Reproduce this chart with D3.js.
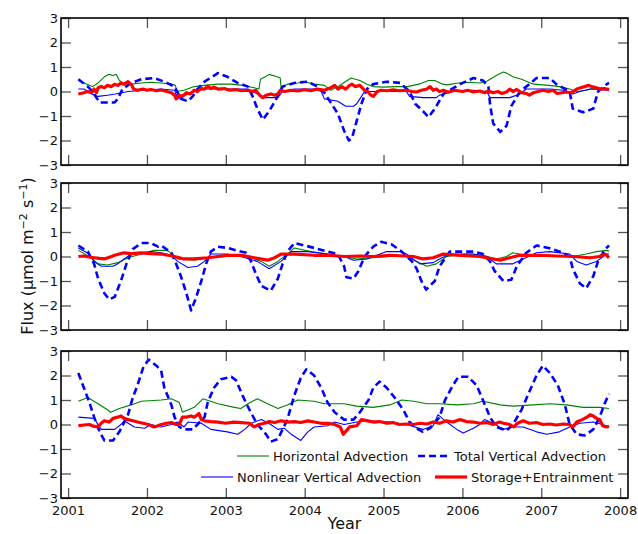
<!DOCTYPE html>
<html>
<head>
<meta charset="utf-8">
<script src="https://cdn.jsdelivr.net/npm/d3@7"></script>
<style>
  body { margin: 0; background: #fff; }
  svg { font-family: "DejaVu Sans", sans-serif; }
</style>
</head>
<body>
<div id="chart"></div>
<script>
// flux components, 3 stacked panels - [year, flux] pairs
const horiz1 = [[2001.13,0.45],[2001.2,0.35],[2001.31,0.2],[2001.38,0.35],[2001.46,0.6],[2001.52,0.7],[2001.57,0.65],[2001.61,0.7],[2001.65,0.45],[2001.69,0.35],[2001.8,0.3],[2001.93,0.35],[2002.05,0.38],[2002.18,0.35],[2002.31,0.3],[2002.36,0.25],[2002.38,0.0],[2002.47,0.05],[2002.6,0.2],[2002.73,0.25],[2002.9,0.3],[2003.07,0.3],[2003.21,0.25],[2003.36,0.15],[2003.42,0.1],[2003.44,0.5],[2003.5,0.6],[2003.55,0.7],[2003.65,0.6],[2003.69,0.55],[2003.7,0.15],[2003.78,0.3],[2003.91,0.35],[2004.0,0.4],[2004.12,0.3],[2004.25,0.25],[2004.33,0.05],[2004.42,0.2],[2004.49,0.35],[2004.59,0.55],[2004.7,0.45],[2004.79,0.3],[2004.87,0.2],[2005.0,0.18],[2005.15,0.2],[2005.3,0.2],[2005.45,0.3],[2005.57,0.45],[2005.65,0.45],[2005.75,0.3],[2005.8,0.27],[2005.95,0.35],[2006.1,0.38],[2006.22,0.35],[2006.31,0.42],[2006.43,0.65],[2006.52,0.8],[2006.56,0.75],[2006.64,0.6],[2006.75,0.5],[2006.9,0.3],[2007.1,0.25],[2007.23,0.2],[2007.36,0.1],[2007.45,0.0],[2007.57,0.05],[2007.66,0.13],[2007.78,0.1],[2007.86,0.08]];
const nonlin1 = [[2001.13,0.1],[2001.2,0.1],[2001.3,-0.1],[2001.38,-0.2],[2001.5,-0.15],[2001.6,-0.1],[2001.76,0.0],[2001.97,0.05],[2002.18,0.1],[2002.35,0.05],[2002.39,-0.3],[2002.52,-0.1],[2002.69,0.1],[2003.02,0.1],[2003.28,0.1],[2003.4,-0.1],[2003.45,-0.25],[2003.66,-0.25],[2003.72,0.0],[2003.87,0.1],[2004.12,0.1],[2004.21,0.0],[2004.25,-0.3],[2004.42,-0.4],[2004.52,-0.6],[2004.62,-0.6],[2004.66,-0.5],[2004.7,-0.3],[2004.76,0.0],[2005.0,0.0],[2005.29,0.0],[2005.33,-0.2],[2005.5,-0.25],[2005.67,-0.25],[2005.71,-0.15],[2005.88,0.0],[2006.14,0.05],[2006.31,0.0],[2006.35,-0.25],[2006.6,-0.25],[2006.73,-0.1],[2006.81,0.1],[2007.11,0.1],[2007.28,0.05],[2007.4,-0.1],[2007.49,0.0],[2007.62,0.1],[2007.86,0.05]];
const totvert1 = [[2001.13,0.5],[2001.25,0.2],[2001.31,0.0],[2001.4,-0.45],[2001.5,-0.45],[2001.59,-0.45],[2001.63,-0.3],[2001.69,0.1],[2001.8,0.35],[2001.93,0.5],[2002.09,0.55],[2002.22,0.4],[2002.35,0.2],[2002.43,-0.3],[2002.52,-0.4],[2002.58,-0.2],[2002.64,0.1],[2002.73,0.4],[2002.9,0.75],[2003.02,0.6],[2003.15,0.35],[2003.28,0.2],[2003.34,-0.2],[2003.4,-0.7],[2003.47,-1.15],[2003.55,-0.8],[2003.64,-0.3],[2003.72,0.2],[2003.87,0.35],[2004.04,0.4],[2004.16,0.2],[2004.25,-0.05],[2004.33,-0.45],[2004.42,-0.9],[2004.5,-1.6],[2004.56,-2.0],[2004.6,-1.9],[2004.66,-1.2],[2004.72,-0.5],[2004.79,0.1],[2004.87,0.3],[2005.04,0.4],[2005.21,0.35],[2005.33,0.0],[2005.4,-0.5],[2005.5,-0.8],[2005.57,-1.05],[2005.65,-0.7],[2005.76,-0.1],[2005.97,0.3],[2006.14,0.55],[2006.26,0.45],[2006.33,0.2],[2006.35,-0.5],[2006.39,-1.3],[2006.48,-1.65],[2006.56,-1.4],[2006.62,-0.6],[2006.73,0.0],[2006.85,0.3],[2006.94,0.55],[2007.11,0.55],[2007.19,0.3],[2007.36,0.0],[2007.4,-0.7],[2007.53,-0.85],[2007.66,-0.7],[2007.72,0.0],[2007.83,0.3],[2007.86,0.35]];
const storage1 = [[2001.13,-0.1],[2001.2,-0.05],[2001.25,0.0],[2001.3,-0.05],[2001.33,0.1],[2001.36,-0.05],[2001.38,0.15],[2001.42,0.2],[2001.46,0.15],[2001.5,0.25],[2001.55,0.2],[2001.59,0.3],[2001.63,0.25],[2001.67,0.35],[2001.71,0.3],[2001.76,0.4],[2001.8,0.3],[2001.83,0.1],[2001.88,0.05],[2001.95,0.1],[2002.0,0.05],[2002.05,0.08],[2002.12,0.03],[2002.18,0.06],[2002.25,0.0],[2002.31,-0.05],[2002.35,-0.15],[2002.37,-0.3],[2002.41,-0.15],[2002.45,-0.2],[2002.5,-0.05],[2002.55,-0.1],[2002.6,0.05],[2002.64,0.0],[2002.69,0.12],[2002.73,0.1],[2002.77,0.22],[2002.81,0.12],[2002.85,0.18],[2002.9,0.1],[2002.98,0.12],[2003.05,0.05],[2003.12,0.08],[2003.2,0.03],[2003.28,0.05],[2003.34,0.0],[2003.38,0.05],[2003.43,-0.15],[2003.47,-0.25],[2003.51,-0.15],[2003.57,-0.1],[2003.62,-0.15],[2003.66,-0.1],[2003.69,0.05],[2003.75,0.0],[2003.83,0.05],[2003.91,0.02],[2004.0,0.07],[2004.08,0.03],[2004.16,0.1],[2004.25,0.05],[2004.33,0.15],[2004.38,0.25],[2004.42,0.1],[2004.47,0.2],[2004.52,0.1],[2004.57,0.25],[2004.6,0.3],[2004.64,0.2],[2004.7,0.25],[2004.76,0.05],[2004.8,0.0],[2004.84,-0.15],[2004.87,-0.2],[2004.92,0.0],[2004.97,0.05],[2005.05,0.03],[2005.12,0.07],[2005.2,0.03],[2005.29,0.05],[2005.36,0.0],[2005.42,-0.02],[2005.48,0.05],[2005.55,0.1],[2005.59,0.2],[2005.63,0.05],[2005.67,0.1],[2005.71,0.0],[2005.76,0.05],[2005.82,-0.03],[2005.9,0.05],[2006.0,0.0],[2006.07,0.05],[2006.14,-0.02],[2006.22,0.02],[2006.28,-0.05],[2006.33,0.02],[2006.39,-0.05],[2006.45,0.0],[2006.5,-0.08],[2006.56,-0.02],[2006.6,0.1],[2006.64,0.0],[2006.69,0.08],[2006.75,-0.05],[2006.81,-0.08],[2006.85,-0.15],[2006.9,-0.05],[2006.96,0.0],[2007.02,0.05],[2007.09,0.0],[2007.15,0.05],[2007.2,-0.08],[2007.26,-0.05],[2007.32,-0.02],[2007.38,-0.05],[2007.45,0.1],[2007.5,0.15],[2007.55,0.2],[2007.6,0.25],[2007.64,0.2],[2007.7,0.15],[2007.75,0.1],[2007.8,0.12],[2007.86,0.08]];

const horiz2 = [[2001.13,0.25],[2001.27,0.0],[2001.38,-0.3],[2001.5,-0.35],[2001.63,-0.25],[2001.76,-0.05],[2001.93,0.1],[2002.09,0.25],[2002.26,0.25],[2002.39,-0.1],[2002.6,-0.15],[2002.77,-0.05],[2003.02,0.0],[2003.24,0.05],[2003.45,-0.2],[2003.55,-0.4],[2003.66,-0.2],[2003.78,0.1],[2003.87,0.35],[2004.08,0.2],[2004.29,0.1],[2004.5,0.0],[2004.66,-0.1],[2004.87,-0.05],[2005.08,0.0],[2005.29,0.0],[2005.42,-0.2],[2005.55,-0.4],[2005.67,-0.3],[2005.8,0.0],[2006.05,0.1],[2006.26,0.05],[2006.43,-0.1],[2006.56,0.0],[2006.64,0.15],[2006.81,0.05],[2006.98,0.0],[2007.32,0.05],[2007.4,0.0],[2007.57,0.1],[2007.7,0.2],[2007.83,0.25],[2007.86,0.22]];
const nonlin2 = [[2001.13,0.35],[2001.27,0.1],[2001.33,-0.2],[2001.42,-0.4],[2001.57,-0.4],[2001.63,-0.3],[2001.71,-0.1],[2001.8,0.1],[2002.05,0.2],[2002.18,0.15],[2002.31,0.05],[2002.39,-0.2],[2002.52,-0.45],[2002.64,-0.4],[2002.73,-0.2],[2002.81,0.1],[2003.02,0.1],[2003.19,0.0],[2003.4,-0.2],[2003.55,-0.5],[2003.7,-0.2],[2003.83,0.2],[2004.04,0.2],[2004.29,0.1],[2004.5,0.0],[2004.62,-0.15],[2004.79,-0.1],[2005.04,0.2],[2005.21,0.2],[2005.29,0.1],[2005.46,-0.3],[2005.63,-0.25],[2005.71,-0.1],[2005.84,0.1],[2006.14,0.1],[2006.31,0.0],[2006.43,-0.3],[2006.64,-0.3],[2006.77,-0.1],[2006.94,0.15],[2007.11,0.2],[2007.36,0.1],[2007.45,-0.2],[2007.57,-0.35],[2007.7,-0.2],[2007.83,0.1],[2007.86,0.1]];
const totvert2 = [[2001.13,0.45],[2001.25,0.2],[2001.33,-0.3],[2001.38,-0.9],[2001.46,-1.5],[2001.52,-1.75],[2001.59,-1.65],[2001.67,-1.0],[2001.74,-0.3],[2001.82,0.3],[2001.93,0.55],[2002.05,0.55],[2002.14,0.4],[2002.18,0.45],[2002.31,0.15],[2002.37,-0.3],[2002.43,-0.8],[2002.5,-1.5],[2002.56,-2.2],[2002.62,-1.7],[2002.69,-1.0],[2002.75,-0.3],[2002.81,0.2],[2002.9,0.4],[2003.02,0.35],[2003.19,0.2],[2003.26,0.15],[2003.32,-0.2],[2003.38,-0.7],[2003.45,-1.2],[2003.57,-1.4],[2003.66,-0.9],[2003.72,-0.3],[2003.78,0.2],[2003.87,0.55],[2004.0,0.45],[2004.12,0.35],[2004.29,0.2],[2004.42,0.1],[2004.5,-0.4],[2004.53,-0.85],[2004.62,-0.9],[2004.68,-0.6],[2004.76,0.0],[2004.87,0.4],[2004.97,0.6],[2005.1,0.5],[2005.23,0.2],[2005.36,-0.2],[2005.42,-0.5],[2005.48,-1.0],[2005.54,-1.35],[2005.65,-1.0],[2005.71,-0.4],[2005.84,0.2],[2006.01,0.2],[2006.14,0.2],[2006.26,0.1],[2006.35,-0.2],[2006.41,-0.6],[2006.52,-1.0],[2006.62,-0.95],[2006.69,-0.4],[2006.81,0.15],[2006.94,0.45],[2007.09,0.35],[2007.28,0.15],[2007.36,0.0],[2007.4,-0.5],[2007.49,-1.1],[2007.57,-1.3],[2007.66,-0.8],[2007.72,-0.2],[2007.81,0.3],[2007.86,0.45]];
const storage2 = [[2001.13,0.0],[2001.2,0.02],[2001.27,-0.02],[2001.33,-0.05],[2001.4,-0.08],[2001.46,-0.1],[2001.55,0.0],[2001.59,0.05],[2001.65,0.1],[2001.71,0.15],[2001.8,0.12],[2001.93,0.15],[2002.05,0.12],[2002.18,0.1],[2002.35,0.0],[2002.47,-0.1],[2002.6,-0.1],[2002.77,-0.05],[2002.9,0.0],[2003.02,0.05],[2003.2,0.05],[2003.36,-0.05],[2003.53,-0.15],[2003.62,-0.05],[2003.7,0.1],[2003.87,0.1],[2004.12,0.05],[2004.3,0.05],[2004.5,0.0],[2004.7,0.02],[2004.87,0.0],[2005.08,0.05],[2005.38,0.0],[2005.5,-0.1],[2005.63,-0.05],[2005.76,0.1],[2005.93,0.05],[2006.22,0.0],[2006.39,-0.1],[2006.48,-0.15],[2006.6,-0.05],[2006.73,0.05],[2006.98,0.05],[2007.2,0.02],[2007.4,0.0],[2007.62,-0.05],[2007.74,0.0],[2007.81,0.1],[2007.86,-0.05]];

const horiz3 = [[2001.13,0.95],[2001.25,1.1],[2001.38,0.85],[2001.5,0.6],[2001.54,0.5],[2001.65,0.65],[2001.8,0.8],[2001.93,0.95],[2002.18,1.0],[2002.31,1.05],[2002.41,0.9],[2002.45,0.5],[2002.6,0.7],[2002.71,1.05],[2002.9,0.85],[2003.11,0.7],[2003.19,0.65],[2003.28,0.85],[2003.4,1.05],[2003.53,0.85],[2003.66,0.65],[2003.78,0.8],[2003.91,1.0],[2004.12,0.95],[2004.25,0.85],[2004.5,0.85],[2004.66,0.75],[2004.87,0.7],[2005.08,0.8],[2005.23,1.0],[2005.38,0.95],[2005.55,0.85],[2005.71,0.85],[2005.93,0.8],[2006.14,0.85],[2006.26,0.95],[2006.48,0.8],[2006.64,0.75],[2006.9,0.8],[2007.11,0.85],[2007.32,0.8],[2007.53,0.7],[2007.74,0.7],[2007.86,0.65]];
const nonlin3 = [[2001.13,0.3],[2001.33,0.25],[2001.42,-0.2],[2001.59,-0.2],[2001.67,0.0],[2001.71,0.15],[2001.84,-0.1],[2001.97,-0.15],[2002.05,0.0],[2002.18,-0.1],[2002.31,0.0],[2002.39,0.1],[2002.47,-0.1],[2002.52,0.1],[2002.69,0.05],[2002.81,-0.2],[2003.02,-0.3],[2003.15,-0.4],[2003.24,-0.2],[2003.32,0.05],[2003.45,0.2],[2003.57,0.0],[2003.66,-0.2],[2003.74,-0.15],[2003.83,-0.4],[2003.95,-0.65],[2004.04,-0.3],[2004.12,-0.1],[2004.29,-0.05],[2004.38,0.1],[2004.5,0.0],[2004.66,0.1],[2004.79,0.15],[2005.08,0.1],[2005.29,0.0],[2005.5,-0.2],[2005.63,-0.05],[2005.69,0.4],[2005.8,0.1],[2005.93,-0.2],[2006.01,-0.35],[2006.14,-0.15],[2006.22,0.0],[2006.28,0.2],[2006.39,0.05],[2006.52,-0.2],[2006.64,-0.1],[2006.77,-0.1],[2006.94,-0.3],[2007.07,-0.4],[2007.23,-0.3],[2007.36,-0.1],[2007.49,0.05],[2007.66,0.1],[2007.78,0.0],[2007.86,-0.1]];
const totvert3 = [[2001.13,2.1],[2001.2,1.5],[2001.27,0.9],[2001.33,0.3],[2001.4,-0.3],[2001.46,-0.65],[2001.57,-0.65],[2001.65,-0.3],[2001.76,0.4],[2001.82,1.1],[2001.88,1.6],[2001.95,2.3],[2002.02,2.65],[2002.12,2.4],[2002.18,2.2],[2002.22,1.5],[2002.31,0.8],[2002.35,0.3],[2002.41,-0.1],[2002.47,-0.2],[2002.58,-0.2],[2002.73,0.3],[2002.77,0.9],[2002.85,1.5],[2002.94,1.85],[2003.07,1.95],[2003.13,1.8],[2003.21,1.2],[2003.3,0.6],[2003.4,0.0],[2003.51,-0.4],[2003.57,-0.7],[2003.66,-0.6],[2003.78,0.2],[2003.87,1.2],[2003.95,1.9],[2004.02,2.25],[2004.12,2.0],[2004.21,1.5],[2004.29,0.9],[2004.38,0.5],[2004.5,0.2],[2004.62,0.2],[2004.7,0.5],[2004.81,1.0],[2004.87,1.5],[2004.95,1.75],[2005.04,1.5],[2005.14,1.1],[2005.25,0.6],[2005.33,0.1],[2005.44,-0.2],[2005.5,-0.3],[2005.59,-0.15],[2005.71,0.3],[2005.78,1.0],[2005.88,1.6],[2005.95,1.95],[2006.07,1.95],[2006.18,1.6],[2006.26,1.0],[2006.35,0.3],[2006.43,-0.1],[2006.56,-0.25],[2006.64,0.0],[2006.75,0.6],[2006.83,1.2],[2006.94,2.0],[2007.02,2.4],[2007.11,2.1],[2007.21,1.6],[2007.3,0.8],[2007.36,0.0],[2007.45,-0.4],[2007.55,-0.45],[2007.66,-0.2],[2007.74,0.3],[2007.81,0.9],[2007.86,1.25]];
const storage3 = [[2001.13,-0.05],[2001.2,-0.02],[2001.27,0.0],[2001.33,-0.08],[2001.38,-0.1],[2001.42,0.05],[2001.46,0.15],[2001.52,0.1],[2001.57,0.25],[2001.63,0.3],[2001.67,0.35],[2001.71,0.25],[2001.76,0.2],[2001.82,0.15],[2001.88,0.1],[2001.95,0.05],[2002.02,0.0],[2002.09,-0.1],[2002.14,-0.05],[2002.18,0.0],[2002.25,0.05],[2002.31,0.08],[2002.37,0.0],[2002.41,0.0],[2002.45,0.3],[2002.5,0.3],[2002.56,0.35],[2002.6,0.3],[2002.66,0.45],[2002.69,0.2],[2002.73,0.15],[2002.81,0.12],[2002.9,0.1],[2003.0,0.05],[2003.1,0.1],[2003.2,0.08],[2003.3,0.05],[2003.36,-0.1],[2003.42,0.0],[2003.49,0.05],[2003.55,0.12],[2003.62,0.08],[2003.7,0.15],[2003.78,0.1],[2003.87,0.12],[2003.95,0.08],[2004.04,0.15],[2004.12,0.1],[2004.21,0.05],[2004.3,0.05],[2004.38,0.0],[2004.45,-0.1],[2004.49,-0.4],[2004.53,-0.25],[2004.57,-0.1],[2004.66,-0.05],[2004.72,0.2],[2004.8,0.15],[2004.87,0.1],[2004.95,0.12],[2005.04,0.05],[2005.12,0.08],[2005.2,0.0],[2005.29,0.02],[2005.38,0.0],[2005.46,0.05],[2005.55,0.02],[2005.63,0.1],[2005.71,0.05],[2005.8,0.15],[2005.88,0.1],[2005.97,0.2],[2006.05,0.12],[2006.14,0.1],[2006.22,0.05],[2006.31,0.08],[2006.39,0.0],[2006.47,0.1],[2006.52,0.05],[2006.6,0.0],[2006.65,-0.1],[2006.7,0.05],[2006.77,0.15],[2006.85,0.05],[2006.94,0.08],[2007.02,0.0],[2007.11,0.02],[2007.19,-0.02],[2007.28,0.02],[2007.36,0.0],[2007.4,-0.1],[2007.45,0.1],[2007.52,0.2],[2007.58,0.3],[2007.62,0.4],[2007.66,0.35],[2007.7,0.25],[2007.74,0.2],[2007.78,-0.05],[2007.82,-0.1],[2007.86,-0.08]];

const yearTicks = [2001, 2002, 2003, 2004, 2005, 2006, 2007, 2008];
const fluxTicks = [-3, -2, -1, 0, 1, 2, 3];
const seriesNames = ['Horizontal Advection', 'Nonlinear Vertical Advection', 'Total Vertical Advection', 'Storage+Entrainment'];

const W = 638, H = 534;
const left = 61, right = 628, panelH = 147;
const panelTops = [18, 183, 351];

const styles = [
  {color: '#008000', width: 1.1, dash: null},
  {color: '#0000ff', width: 1.1, dash: null},
  {color: '#0000ff', width: 2.6, dash: '7,4'},
  {color: '#ff0000', width: 3.2, dash: null}
];

const panels = [
  [horiz1, nonlin1, totvert1, storage1],
  [horiz2, nonlin2, totvert2, storage2],
  [horiz3, nonlin3, totvert3, storage3]
];

const svg = d3.select('#chart').append('svg')
  .attr('width', W).attr('height', H);

const x = d3.scaleLinear().domain([2000.91, 2008.1]).range([left, right]);
const fmt = d => d < 0 ? '\u2212' + Math.abs(d) : String(d);

panels.forEach((series, pi) => {
  const top = panelTops[pi];
  const y = d3.scaleLinear().domain([-3, 3]).range([top + panelH, top]);
  const g = svg.append('g');

  const line = d3.line().x(d => x(d[0])).y(d => y(d[1]));
  series.forEach((s, si) => {
    const st = styles[si];
    g.append('path').datum(s)
      .attr('d', line)
      .attr('fill', 'none')
      .attr('stroke', st.color)
      .attr('stroke-width', st.width)
      .attr('stroke-linejoin', 'round')
      .attr('stroke-dasharray', st.dash);
  });

  // inward ticks on all four sides
  const axL = g.append('g').attr('transform', `translate(${left},0)`)
    .call(d3.axisLeft(y).tickValues(fluxTicks).tickSize(-10).tickPadding(3).tickFormat(fmt));
  const axR = g.append('g').attr('transform', `translate(${right},0)`)
    .call(d3.axisRight(y).tickValues(fluxTicks).tickSize(-10).tickFormat(''));
  const axT = g.append('g').attr('transform', `translate(0,${top})`)
    .call(d3.axisTop(x).tickValues(yearTicks).tickSize(-10).tickFormat(''));
  const axB = g.append('g').attr('transform', `translate(0,${top + panelH})`)
    .call(d3.axisBottom(x).tickValues(yearTicks).tickSize(-10).tickPadding(8)
      .tickFormat(pi === 2 ? d3.format('d') : ''));

  [axL, axR, axT, axB].forEach(a => {
    a.select('.domain').remove();
    a.selectAll('line').attr('stroke', '#555').attr('stroke-width', 1.3);
    a.selectAll('text').attr('fill', '#111').style('font-size', '13px')
      .style('font-family', '"DejaVu Sans", sans-serif');
  });

  g.append('rect')
    .attr('x', left).attr('y', top)
    .attr('width', right - left).attr('height', panelH)
    .attr('fill', 'none').attr('stroke', '#000').attr('stroke-width', 1.6);
});

// legend (bottom panel)
const legendItems = [
  {si: 0, x: 237, y: 456},
  {si: 2, x: 418, y: 456},
  {si: 1, x: 201, y: 477},
  {si: 3, x: 435, y: 477}
];
const lg = svg.append('g');
legendItems.forEach(it => {
  const st = styles[it.si];
  lg.append('line')
    .attr('x1', it.x).attr('x2', it.x + 32)
    .attr('y1', it.y).attr('y2', it.y)
    .attr('stroke', st.color).attr('stroke-width', st.width)
    .attr('stroke-dasharray', st.dash);
  lg.append('text')
    .attr('x', it.x + 36).attr('y', it.y).attr('dy', '0.35em')
    .style('font-size', '13px').attr('fill', '#111')
    .text(seriesNames[it.si]);
});

// axis titles
svg.append('text')
  .attr('x', (left + right) / 2).attr('y', 529)
  .attr('text-anchor', 'middle')
  .style('font-size', '16px').attr('fill', '#111')
  .text('Year');

const yl = svg.append('text')
  .attr('transform', 'translate(33,256) rotate(-90)')
  .attr('text-anchor', 'middle')
  .style('font-size', '16px').attr('fill', '#111');
yl.append('tspan').text('Flux (\u03bcmol m');
yl.append('tspan').attr('dy', -6).style('font-size', '11px').text('\u22122');
yl.append('tspan').attr('dy', 6).text(' s');
yl.append('tspan').attr('dy', -6).style('font-size', '11px').text('\u22121');
yl.append('tspan').attr('dy', 6).text(')');
</script>
</body>
</html>
